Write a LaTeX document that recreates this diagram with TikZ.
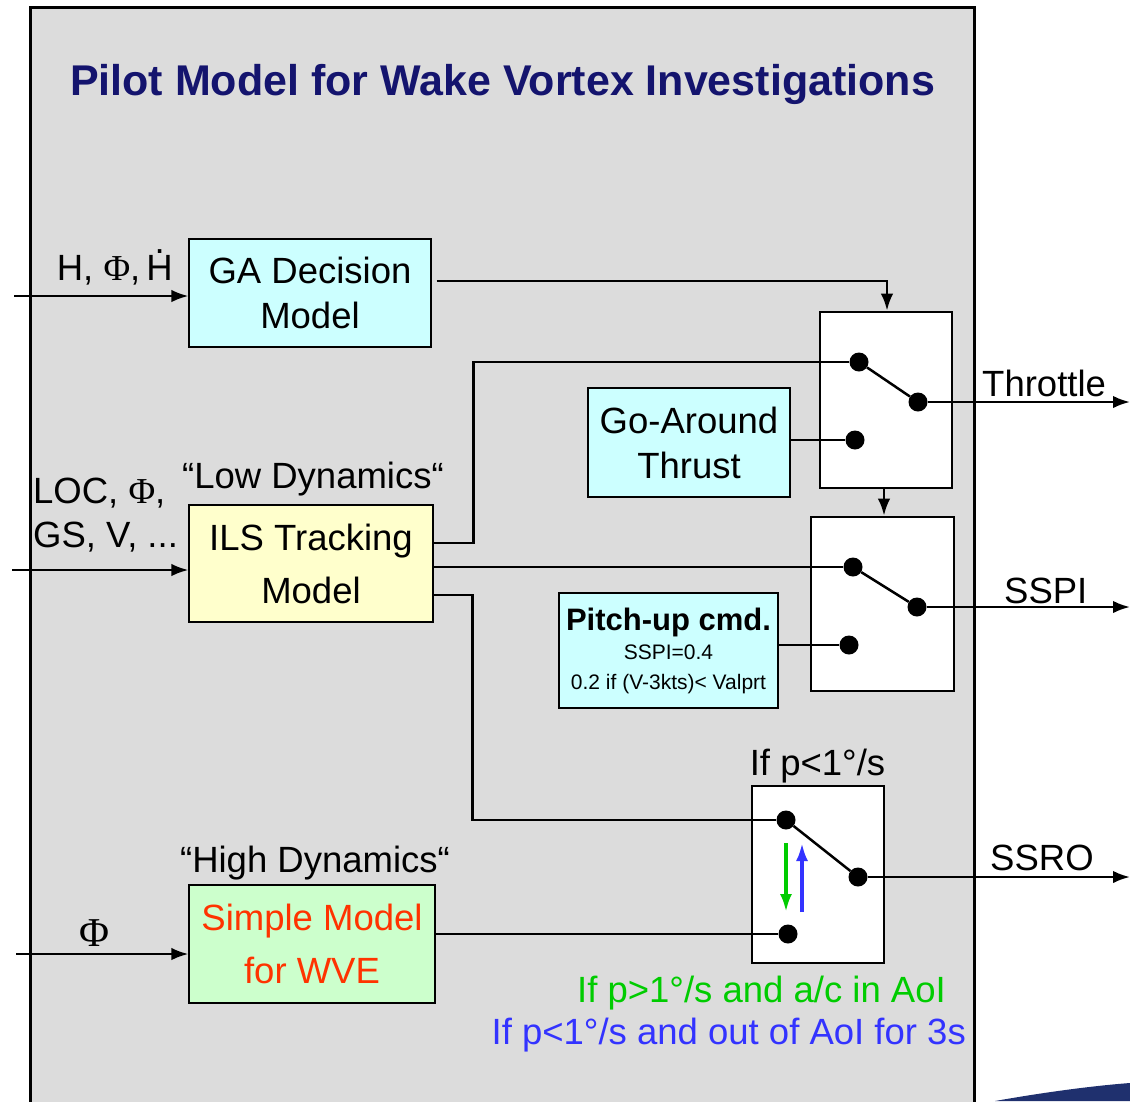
\documentclass[tikz,border=0pt]{standalone}
\usepackage{fontspec}
\setmainfont{Liberation Sans}
\newfontfamily\phifont{Liberation Serif}
\usetikzlibrary{arrows.meta}

\definecolor{panelgray}{RGB}{220,220,220}
\definecolor{titleblue}{RGB}{20,20,110}
\definecolor{boxcyan}{RGB}{204,255,255}
\definecolor{boxyellow}{RGB}{255,255,204}
\definecolor{boxgreen}{RGB}{204,255,204}
\definecolor{wvered}{RGB}{255,51,0}
\definecolor{condgreen}{RGB}{0,204,0}
\definecolor{condblue}{RGB}{51,51,255}
\definecolor{swooshblue}{RGB}{31,48,110}

% H with a dot above (time derivative)
\newcommand\hderiv{\ooalign{H\cr\hidewidth\raisebox{0.72em}{.}\hidewidth\cr}}
\newcommand\phisym{{\phifont Φ}}

\begin{document}
\begin{tikzpicture}[x=1pt,y=-1pt,
  txt/.style={font=\fontsize{36.5}{45}\selectfont, inner sep=0pt},
  model/.style={draw=black, line width=1.1pt, inner sep=0pt, align=center,
                font=\fontsize{36.5}{45}\selectfont},
  switchbox/.style={draw=black, fill=white, line width=2.8pt, inner sep=0pt},
  contact/.style={circle, fill=black, inner sep=0pt, minimum size=19pt},
  wire/.style={line width=2.5pt},
  tip/.style={-{Latex[length=17pt,width=12.5pt]}},
  arr/.style={wire, tip},
  modearr/.style={line width=3.5pt, -{Latex[length=18pt,width=12pt]}}]

\useasboundingbox (0,0) rectangle (1130,1101);

% grey panel
\fill[panelgray] (30,7) rectangle (974,1110);
\draw[line width=3pt] (30,1110) -- (30,7) -- (974,7) -- (974,1110);

% decorative swoosh
\fill[swooshblue] (995,1101) .. controls (1040,1093) and (1090,1086) .. (1130,1083) -- (1130,1101) -- cycle;

% title
\node[font=\fontsize{43}{50}\selectfont\bfseries, text=titleblue, anchor=base, inner sep=0pt]
  (title) at (502.5,95) {Pilot Model for Wake Vortex Investigations};

% model blocks
\node[model, fill=boxcyan, minimum width=242pt, minimum height=108pt] (ga) at (310,293)
  {GA Decision\\Model};
\node[model, fill=boxcyan, minimum width=202pt, minimum height=109pt] (thrust) at (689,442.5)
  {Go-Around\\Thrust};
\node[model, fill=boxyellow, minimum width=244pt, minimum height=117pt,
      font=\fontsize{36.5}{53}\selectfont] (ils) at (311,563.5)
  {ILS Tracking\\Model};
\node[model, fill=boxcyan, minimum width=219pt, minimum height=115pt,
      font=\fontsize{21}{29.5}\selectfont] (pitch) at (668.5,650.5)
  {{\fontsize{31}{29.5}\selectfont\bfseries Pitch-up cmd.}\\SSPI=0.4\\0.2 if (V-3kts)< Valprt};
\node[model, fill=boxgreen, minimum width=246pt, minimum height=118pt, text=wvered,
      font=\fontsize{36.5}{53}\selectfont] (wve) at (312,944)
  {Simple Model\\for WVE};

% switch boxes
\node[switchbox, minimum width=132pt, minimum height=176pt] (sw1) at (886,400) {};
\node[switchbox, minimum width=143pt, minimum height=174pt] (sw2) at (882.5,604) {};
\node[switchbox, minimum width=132pt, minimum height=177pt] (sw3) at (818,874.5) {};

% switch contacts
\node[contact] (c1a) at (859,362) {};
\node[contact] (c1b) at (918,402) {};
\node[contact] (c1c) at (855,440) {};
\node[contact] (c2a) at (853,567) {};
\node[contact] (c2b) at (917,607) {};
\node[contact] (c2c) at (849,645) {};
\node[contact] (c3a) at (786,820) {};
\node[contact] (c3b) at (858,877) {};
\node[contact] (c3c) at (788,934) {};

% levers
\draw[wire] (c1a) -- (c1b);
\draw[wire] (c2a) -- (c2b);
\draw[wire] (c3a) -- (c3b);

% inputs
\coordinate (inga) at (14,296);
\coordinate (inils) at (12,570);
\coordinate (inwve) at (16,954);
\draw[arr] (inga) -- (inga -| ga.west);
\draw[arr] (inils) -- (inils -| ils.west);
\draw[arr] (inwve) -- (inwve -| wve.west);

% outputs
\coordinate (outthr) at (1130,402);
\coordinate (outsspi) at (1130,607);
\coordinate (outssro) at (1130,877);
\draw[arr] (c1b) -- (outthr);
\draw[arr] (c2b) -- (outsspi);
\draw[arr] (c3b) -- (outssro);

% internal connections
\draw[arr] ([shift={(5,-12)}]ga.east) -| (887,0 |- sw1.north);
\draw[arr] (884,0 |- sw1.south) -- (884,0 |- sw2.north);
\draw[wire] ([shift={(0,-20.5)}]ils.east) -- ++(40,0) |- (c1a);
\draw[wire] (ils.east |- c2a) -- (c2a);
\draw[wire] ([shift={(0,31.5)}]ils.east) -- ++(39,0) |- (c3a);
\draw[wire] (thrust.east |- c1c) -- (c1c);
\draw[wire] (pitch.east |- c2c) -- (c2c);
\draw[wire] (wve.east |- c3c) -- (c3c);

% mode-change arrows inside the roll switch
\draw[modearr, condgreen] (786,843) -- (786,912);
\draw[modearr, condblue] (802,912) -- (802,843);

% labels
\node[txt, anchor=base east] (lblga) at (173,280) {H, \phisym,\,\hderiv};
\node[txt, anchor=base] (lbllow) at (313,488) {“Low Dynamics“};
\node[txt, anchor=base west] (lblils) at (33,503) {LOC, \phisym,};
\node[txt, anchor=base west] (lblils2) at (33,547) {GS, V, ...};
\node[txt, anchor=base, font=\fontsize{41}{45}\selectfont] (lblphi) at (94,946) {\phisym};
\node[txt, anchor=base] (lblhigh) at (315,872) {“High Dynamics“};
\node[txt, anchor=base] (lblroll) at (817.5,775) {If p<1°/s};
\node[txt, anchor=base west] (lblthr) at (982,396) {Throttle};
\node[txt, anchor=base west] (lblsspi) at (1004,603) {SSPI};
\node[txt, anchor=base west] (lblssro) at (990,870) {SSRO};
\node[txt, anchor=base east, text=condgreen] (lblin) at (946,1002) {If p>1°/s and a/c in AoI};
\node[txt, anchor=base east, text=condblue] (lblout) at (966,1044) {If p<1°/s and out of AoI for 3s};
\end{tikzpicture}
\end{document}
